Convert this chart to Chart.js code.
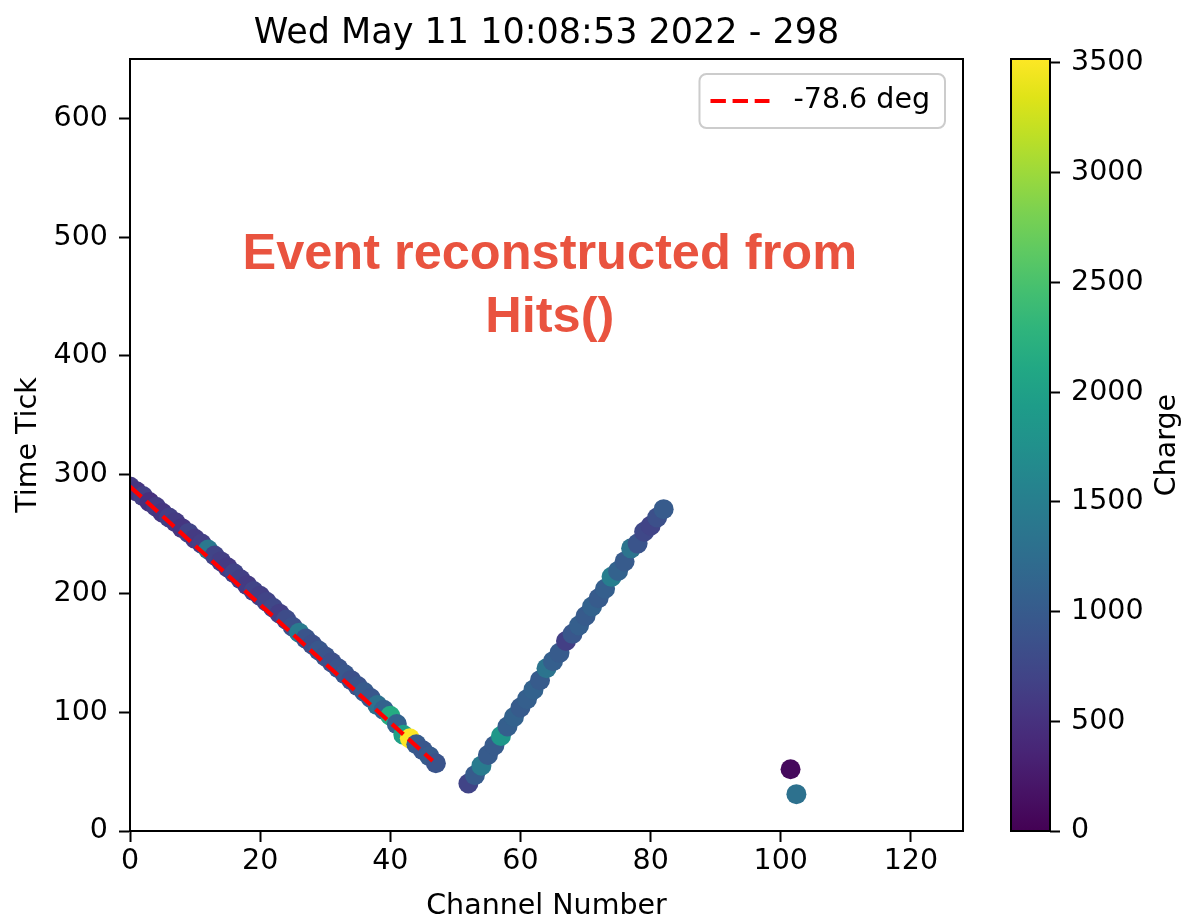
<!DOCTYPE html>
<html><head><meta charset="utf-8">
<script src="https://cdn.jsdelivr.net/npm/chart.js@4.4.1/dist/chart.umd.min.js"></script>
<style>
html,body{margin:0;padding:0;background:#fff;}
#wrap{position:relative;width:1187px;height:918px;overflow:hidden;background:#fff;}
#main{position:absolute;left:0;top:0;}
#cbar{position:absolute;left:1000px;top:0;}
</style></head><body>
<div id="wrap">
<canvas id="main" width="1000" height="918"></canvas>
<canvas id="cbar" width="187" height="918"></canvas>
</div>
<script>
// ---- texts ----
const titleText = 'Wed May 11 10:08:53 2022 - 298';
const xTitle = 'Channel Number';
const yTitle = 'Time Tick';
const cbTitle = 'Charge';
const annotationLines = ['Event reconstructed from', 'Hits()'];
const fitLabel = '-78.6 deg';

// ---- tick labels ----
const xTicks = [0, 20, 40, 60, 80, 100, 120];
const yTicks = [0, 100, 200, 300, 400, 500, 600];
const cbTicks = [0, 500, 1000, 1500, 2000, 2500, 3000, 3500];

// ---- data ----
const track1Channel = [0,1,2,3,4,5,6,7,8,9,10,11,12,13,14,15,16,17,18,19,20,21,22,23,24,25,26,27,28,29,30,31,32,33,34,35,36,37,38,39,40,41,42,43,44,45,46,47];
const track1Time = [290,286,282,277,273,268,264,260,255,251,246,242,237,232,227,222,217,212,207,202,198,193,188,183,178,172,167,162,157,152,147,142,137,132,127,122,117,112,106,102,97,90,81,78,73,68,63,57];
const track1Charge = [600,550,650,500,600,550,650,600,550,700,600,650,1400,700,650,600,700,650,600,700,650,700,750,650,800,850,1450,900,850,950,900,850,900,950,850,900,1000,950,1300,1100,2150,1100,2000,3518,1000,950,1000,900];

const track2Channel = [52,53,54,55,56,57,58,59,60,61,62,63,64,65,66,67,68,69,70,71,72,73,74,75,76,77,78,79,80,81,82];
const track2Time = [40,47,55,64,72,80,88,96,104,111,119,127,137,143,150,160,166,173,181,189,196,204,214,219,227,238,242,252,257,264,271];
const track2Charge = [700,1000,1450,1000,1000,1850,1050,1100,1000,1050,1100,1000,1350,1050,1000,650,950,1050,1000,1100,1000,1050,1500,1100,1000,1350,900,750,700,850,1000];

const isolatedChannel = [101.5, 102.4];
const isolatedTime = [52, 31];
const isolatedCharge = [80, 1300];

const fitChannel = [0, 46.5];
const fitTime = [290, 59];

// ---- colormap (viridis) ----
const viridisStops = ['#440154','#471365','#482475','#463480','#414487','#3b528b','#355f8d','#2f6c8e','#2a788e','#25848e','#21918c','#1e9c89','#22a884','#2fb47c','#44bf70','#5ec962','#7ad151','#9bd93c','#bddf26','#dfe318','#fde725'];
function hexRgb(h){return [parseInt(h.slice(1,3),16),parseInt(h.slice(3,5),16),parseInt(h.slice(5,7),16)];}
function viridis(t){
  t = Math.max(0, Math.min(1, t));
  const n = viridisStops.length - 1;
  const f = t * n, i = Math.min(n - 1, Math.floor(f)), u = f - i;
  const a = hexRgb(viridisStops[i]), b = hexRgb(viridisStops[i + 1]);
  return 'rgb(' + a.map((v, k) => Math.round(v + (b[k] - v) * u)).join(',') + ')';
}

const allX = [...track1Channel, ...track2Channel, ...isolatedChannel];
const allY = [...track1Time, ...track2Time, ...isolatedTime];
const allQ = [...track1Charge, ...track2Charge, ...isolatedCharge];
const hits = allX.map((x, i) => ({x: x, y: allY[i]}));
const cmax = Math.max(...allQ);
const hitColors = allQ.map(q => viridis(q / cmax));
const fitPoints = fitChannel.map((x, i) => ({x: x, y: fitTime[i]}));

const FONT = 'DejaVu Sans';
const FS = 28.5;
Chart.defaults.font.family = FONT;
Chart.defaults.color = '#000';

const framePlugin = {
  id: 'frame',
  afterDatasetsDraw(chart) {
    const {ctx, chartArea: a} = chart;
    ctx.save();
    ctx.strokeStyle = '#000'; ctx.lineWidth = 2;
    ctx.strokeRect(a.left, a.top, a.right - a.left, a.bottom - a.top);
    ctx.restore();
  }
};

const legendPlugin = {
  id: 'boxLegend',
  afterDraw(chart) {
    const {ctx, chartArea: a} = chart;
    const ds = chart.data.datasets[0];
    ctx.save();
    ctx.font = FS + 'px "' + FONT + '"';
    const w = ctx.measureText(ds.label).width;
    const bw = 94 + w + 15, bh = 54;
    const bx = a.right - 18 - bw, by = a.top + 15;
    ctx.beginPath();
    ctx.roundRect(bx, by, bw, bh, 7);
    ctx.fillStyle = 'rgba(255,255,255,0.8)';
    ctx.fill();
    ctx.strokeStyle = '#cccccc'; ctx.lineWidth = 2;
    ctx.stroke();
    ctx.beginPath();
    ctx.setLineDash(ds.borderDash);
    ctx.strokeStyle = ds.borderColor; ctx.lineWidth = ds.borderWidth;
    ctx.moveTo(bx + 11, by + bh / 2); ctx.lineTo(bx + 70, by + bh / 2);
    ctx.stroke();
    ctx.setLineDash([]);
    ctx.fillStyle = '#000'; ctx.textBaseline = 'middle'; ctx.textAlign = 'left';
    ctx.fillText(ds.label, bx + 94, by + bh / 2);
    ctx.restore();
  }
};

const annotationPlugin = {
  id: 'annot',
  afterDatasetsDraw(chart) {
    const {ctx, scales: {x, y}} = chart;
    ctx.save();
    ctx.font = 'bold 50.5px "Liberation Sans"';
    ctx.fillStyle = '#e9533f';
    ctx.textAlign = 'center'; ctx.textBaseline = 'middle';
    const cx = x.getPixelForValue(64.5);
    ctx.fillText(annotationLines[0], cx, y.getPixelForValue(485));
    ctx.fillText(annotationLines[1], cx, y.getPixelForValue(432));
    ctx.restore();
  }
};

const plainTick = v => String(v);

new Chart(document.getElementById('main'), {
  type: 'scatter',
  data: {
    datasets: [
      {
        type: 'line', label: fitLabel, data: fitPoints,
        borderColor: '#ff0000', borderWidth: 4.2, borderDash: [15.4, 6.7],
        pointRadius: 0, fill: false, order: 0, clip: 0
      },
      {
        label: 'hits', data: hits,
        pointBackgroundColor: hitColors, pointBorderWidth: 0, pointBorderColor: hitColors,
        pointRadius: 10, pointHoverRadius: 10, showLine: false, order: 1, clip: 0
      }
    ]
  },
  options: {
    responsive: false, animation: false, devicePixelRatio: 1, events: [],
    layout: {padding: {left: 0, right: 37, top: 0, bottom: 0}},
    plugins: {
      legend: {display: false},
      tooltip: {enabled: false},
      title: {
        display: true, text: titleText, fullSize: false, color: '#000',
        font: {size: 35, family: FONT, weight: 'normal', lineHeight: 1.2},
        padding: {top: 12.5, bottom: 4.5}
      }
    },
    scales: {
      x: {
        type: 'linear', min: 0, max: 128,
        afterBuildTicks: s => { s.ticks = xTicks.map(v => ({value: v})); },
        afterFit: s => { s.height = 87; },
        grid: {drawOnChartArea: false, drawTicks: true, tickLength: 11, tickWidth: 2, tickColor: '#000'},
        border: {display: true, color: '#000', width: 2},
        ticks: {color: '#000', font: {size: FS, family: FONT, lineHeight: 1.0}, padding: 5, maxRotation: 0, callback: plainTick},
        title: {display: true, text: xTitle, color: '#000', font: {size: FS, family: FONT, lineHeight: 0.8}, padding: {top: 0, bottom: 0}}
      },
      y: {
        type: 'linear', min: 0, max: 650,
        afterBuildTicks: s => { s.ticks = yTicks.map(v => ({value: v})); },
        afterFit: s => { s.width = 130; },
        grid: {drawOnChartArea: false, drawTicks: true, tickLength: 11, tickWidth: 2, tickColor: '#000'},
        border: {display: true, color: '#000', width: 2},
        ticks: {color: '#000', font: {size: FS, family: FONT, lineHeight: 1.0}, padding: 11, callback: plainTick},
        title: {display: true, text: yTitle, color: '#000', font: {size: FS, family: FONT, lineHeight: 1.0}, padding: {top: 14, bottom: 0}}
      }
    }
  },
  plugins: [framePlugin, annotationPlugin, legendPlugin]
});

// ---- colorbar ----
const cbarPlugin = {
  id: 'cbarFrame',
  afterDraw(chart) {
    const {ctx, chartArea: a} = chart;
    ctx.save();
    ctx.strokeStyle = '#000'; ctx.lineWidth = 2;
    ctx.strokeRect(a.left, a.top, a.right - a.left, a.bottom - a.top);
    ctx.font = FS + 'px "' + FONT + '"';
    ctx.fillStyle = '#000'; ctx.textAlign = 'center'; ctx.textBaseline = 'middle';
    ctx.translate(168, (a.top + a.bottom) / 2);
    ctx.rotate(-Math.PI / 2);
    ctx.fillText(cbTitle, 0, 0);
    ctx.restore();
  }
};

new Chart(document.getElementById('cbar'), {
  type: 'bar',
  data: {
    labels: [cbTitle],
    datasets: [{
      data: [cmax], borderWidth: 0, barPercentage: 1, categoryPercentage: 1,
      backgroundColor: (c) => {
        const ch = c.chart;
        if (!ch.chartArea) return '#21918c';
        const ys = ch.scales.y;
        const g = ch.ctx.createLinearGradient(0, ys.getPixelForValue(0), 0, ys.getPixelForValue(cmax));
        viridisStops.forEach((col, i) => g.addColorStop(i / (viridisStops.length - 1), col));
        return g;
      }
    }]
  },
  options: {
    responsive: false, animation: false, devicePixelRatio: 1, events: [],
    layout: {padding: {left: 11, right: 0, top: 59, bottom: 87}},
    plugins: {legend: {display: false}, tooltip: {enabled: false}, title: {display: false}},
    scales: {
      x: {display: false},
      y: {
        position: 'right', min: 0, max: cmax,
        afterBuildTicks: s => { s.ticks = cbTicks.map(v => ({value: v})); },
        afterFit: s => { s.width = 137; },
        grid: {drawOnChartArea: false, drawTicks: true, tickLength: 10, tickWidth: 2, tickColor: '#000'},
        border: {display: false},
        ticks: {color: '#000', font: {size: FS, family: FONT, lineHeight: 1.0}, padding: 11, callback: plainTick}
      }
    }
  },
  plugins: [cbarPlugin]
});
</script>
</body></html>
